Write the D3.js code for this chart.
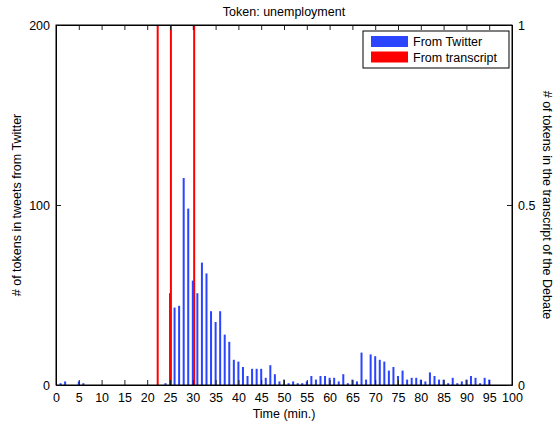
<!DOCTYPE html>
<html><head><meta charset="utf-8">
<script src="https://cdn.jsdelivr.net/npm/d3@7"></script>
<style>body{margin:0;background:#fff}svg{display:block}text{font-family:"Liberation Sans",Arial,sans-serif;fill:#000}</style>
</head><body>
<script>
const title = "Token: unemployment";
const minutes = d3.range(0, 96);
const twitterCounts = [0,1,2,0,0,2,1,0,0,0, 0,0,0,0,0,0,0,0,0,0, 0,0,0,0,1,51,43,44,115,98, 58,51,68,62,41,35,41,28,24,14, 13,10,5,9,9,9,4,11,6,2, 3,1,2,1,1,2,5,3,5,5, 4,4,2,6,1,3,2,18,3,17, 16,14,13,8,10,5,8,3,4,4, 3,2,7,5,3,3,1,4,1,2, 3,5,4,1,4,3];
const transcriptTimes = [22.3, 25.2, 30.3];
const transcriptValues = [1, 1, 1];
const xTicks = d3.range(0, 101, 5);
const leftTicks = [0, 100, 200];
const rightTicks = [0, 0.5, 1];
const rightTickLabels = ["0", "0.5", "1"];
const legendLabels = ["From Twitter", "From transcript"];
const colors = ["#2b45ff", "#ff0000"];

const W = 553, H = 428;
const m = {l: 56, r: 41, t: 25, b: 43};
const svg = d3.select("body").append("svg").attr("width", W).attr("height", H);
svg.append("rect").attr("width", W).attr("height", H).attr("fill", "#fff");

const x = d3.scaleLinear().domain([0, 100]).range([m.l, W - m.r]);
const yL = d3.scaleLinear().domain([0, 200]).range([H - m.b, m.t]);
const yR = d3.scaleLinear().domain([0, 1]).range([H - m.b, m.t]);

svg.append("g").selectAll("rect").data(minutes).join("rect")
  .attr("x", d => x(d) - 1).attr("width", 2)
  .attr("y", (d, i) => yL(twitterCounts[i]))
  .attr("height", (d, i) => yL(0) - yL(twitterCounts[i]))
  .attr("fill", colors[0]);

svg.append("g").selectAll("rect").data(transcriptTimes).join("rect")
  .attr("x", d => x(d) - 1).attr("width", 2)
  .attr("y", (d, i) => yR(transcriptValues[i]))
  .attr("height", (d, i) => yR(0) - yR(transcriptValues[i]))
  .attr("fill", colors[1]);

const tl = 5;
const axB = svg.append("g").attr("transform", `translate(0,${H - m.b})`)
  .call(d3.axisBottom(x).tickValues(xTicks).tickSize(-tl).tickPadding(8).tickSizeOuter(0));
const axT = svg.append("g").attr("transform", `translate(0,${m.t})`)
  .call(d3.axisTop(x).tickValues(xTicks).tickSize(-tl).tickFormat("").tickSizeOuter(0));
const axL = svg.append("g").attr("transform", `translate(${m.l},0)`)
  .call(d3.axisLeft(yL).tickValues(leftTicks).tickSize(-tl).tickPadding(6).tickSizeOuter(0));
const axR = svg.append("g").attr("transform", `translate(${W - m.r},0)`)
  .call(d3.axisRight(yR).tickValues(rightTicks).tickFormat((d, i) => rightTickLabels[i]).tickSize(-tl).tickPadding(6).tickSizeOuter(0));
[axB, axT, axL, axR].forEach(a => {
  a.selectAll("path.domain").attr("stroke", "#000").attr("stroke-width", 1);
  a.selectAll(".tick line").attr("stroke", "#222");
  a.selectAll("text").attr("font-size", 12.5).attr("font-family", '"Liberation Sans",Arial,sans-serif').attr("fill", "#000");
});
axB.selectAll("text").attr("dy", "0.71em");
svg.append("rect").attr("x", m.l).attr("y", m.t).attr("width", W - m.l - m.r).attr("height", H - m.t - m.b)
  .attr("fill", "none").attr("stroke", "#000").attr("stroke-width", 1);

svg.append("text").attr("x", (m.l + W - m.r) / 2).attr("y", 16).attr("text-anchor", "middle").attr("font-size", 12.5).text(title);
svg.append("text").attr("x", (m.l + W - m.r) / 2).attr("y", 418).attr("text-anchor", "middle").attr("font-size", 12.5).text("Time (min.)");
svg.append("text").attr("transform", `translate(21,${(m.t + H - m.b) / 2}) rotate(-90)`).attr("text-anchor", "middle").attr("font-size", 12.5).text("# of tokens in tweets from Twitter");
svg.append("text").attr("transform", `translate(543,${(m.t + H - m.b) / 2}) rotate(90)`).attr("text-anchor", "middle").attr("font-size", 12.5).text("# of tokens in the transcript of the Debate");

const lg = svg.append("g").attr("transform", "translate(363,31)");
lg.append("rect").attr("width", 146).attr("height", 37).attr("fill", "#fff").attr("stroke", "#000");
legendLabels.forEach((t, i) => {
  lg.append("rect").attr("x", 8).attr("y", 5 + i * 15.5).attr("width", 37).attr("height", 11).attr("fill", colors[i]);
  lg.append("text").attr("x", 50).attr("y", 15 + i * 15.5).attr("font-size", 12.5).text(t);
});
</script>
</body></html>
